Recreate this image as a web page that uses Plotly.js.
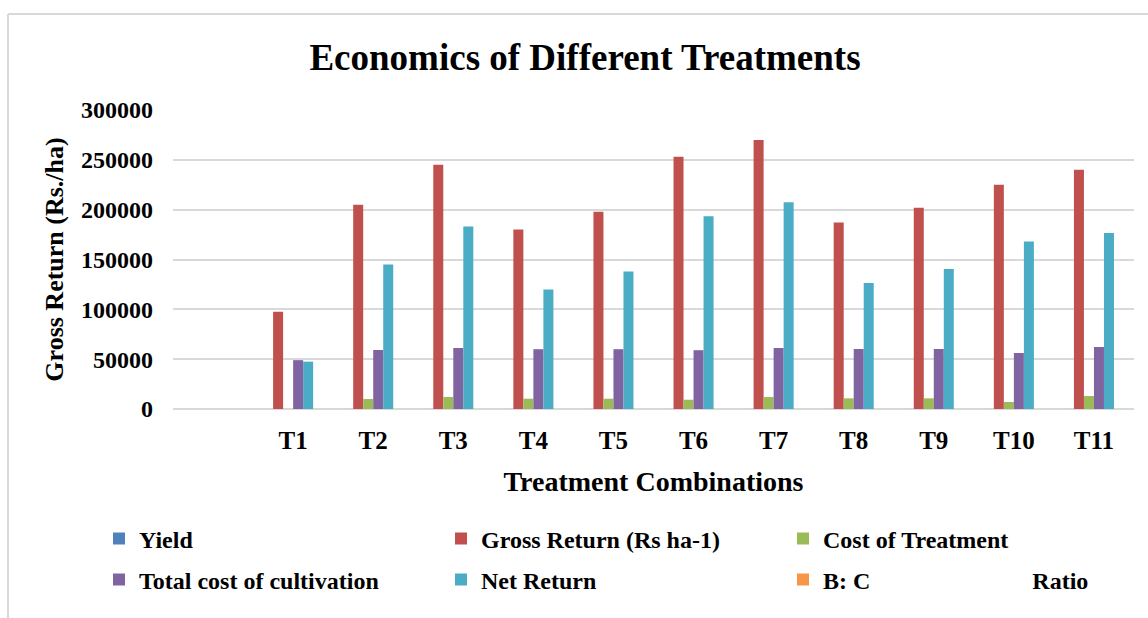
<!DOCTYPE html>
<html>
<head>
<meta charset="utf-8">
<script src="https://cdn.plot.ly/plotly-3.0.1.min.js"></script>
<style>
html,body{margin:0;padding:0;background:#fff;}
#chart{width:1148px;height:618px;}
</style>
</head>
<body>
<div id="chart"></div>
<script>
// Categories (first one is an empty slot, as in the reference)
const categories = [" ", "T1", "T2", "T3", "T4", "T5", "T6", "T7", "T8", "T9", "T10", "T11"];

// Series values
const yieldVals      = [null, 19.5, 41, 49, 36, 39.6, 50.6, 54, 37.4, 40.4, 45, 48];
const grossReturn    = [null, 97500, 205000, 245000, 180000, 198000, 253000, 270000, 187000, 202000, 225000, 240000];
const costTreatment  = [null, 0, 10000, 12000, 10300, 10300, 9300, 12000, 10700, 10700, 7000, 13000];
const totalCost      = [null, 49000, 59200, 61200, 60000, 60000, 59000, 61200, 60200, 60200, 56200, 62200];
const netReturn      = [null, 47500, 145000, 183000, 120000, 138000, 193500, 207500, 126500, 140500, 168000, 176500];
const bcRatio        = [null, 1.99, 3.46, 4.00, 3.00, 3.30, 4.29, 4.41, 3.10, 3.36, 4.00, 3.86];

const seriesNames = ["Yield", "Gross Return (Rs ha-1)", "Cost of Treatment",
                     "Total cost of cultivation", "Net Return",
                     "B: C" + "\u00A0".repeat(27) + "Ratio"];
const seriesColors = ["#4F81BD", "#C0504D", "#9BBB59", "#8064A2", "#4BACC6", "#F79646"];
const seriesData = [yieldVals, grossReturn, costTreatment, totalCost, netReturn, bcRatio];
const seriesLegend = ["legend", "legend", "legend", "legend2", "legend2", "legend2"];

const FONT = "Liberation Serif, Times New Roman, serif";

const traces = seriesData.map((vals, i) => ({
  type: "bar",
  name: seriesNames[i],
  x: categories,
  y: vals,
  marker: {color: seriesColors[i], line: {width: 0}},
  legend: seriesLegend[i],
  hoverinfo: "x+y+name"
}));

const legendCommon = {
  orientation: "h",
  xref: "paper", yref: "paper",
  x: (99 - 173) / 961,
  xanchor: "left", yanchor: "middle",
  font: {family: FONT, size: 24, color: "#000", weight: "bold"},
  entrywidth: 297, entrywidthmode: "pixels",
  bgcolor: "rgba(0,0,0,0)",
  borderwidth: 0,
  traceorder: "normal"
};

const layout = {
  width: 1148, height: 618,
  paper_bgcolor: "#fff", plot_bgcolor: "#fff",
  margin: {l: 173, r: 14, t: 110, b: 209, pad: 0},
  font: {family: FONT, color: "#000"},
  title: {
    text: "<b>Economics of Different Treatments</b>",
    font: {family: FONT, size: 37, color: "#000"},
    x: 585/1148, xanchor: "center", xref: "container",
    y: 1 - 57/618, yanchor: "middle", yref: "container"
  },
  barmode: "group",
  bargap: 0.25,
  bargroupgap: 0,
  xaxis: {
    type: "category",
    categoryorder: "array",
    categoryarray: categories,
    range: [-0.5, 11.5],
    showgrid: false,
    showline: false,
    zeroline: false,
    ticks: "",
    ticklabelstandoff: 14,
    tickfont: {family: FONT, size: 25, color: "#000", weight: "bold"},
    title: {
      text: "<b>Treatment Combinations</b>",
      font: {family: FONT, size: 28, color: "#000"},
      standoff: 18
    },
    automargin: false,
    fixedrange: true
  },
  yaxis: {
    range: [0, 300000],
    dtick: 50000,
    tick0: 0,
    showgrid: true,
    gridcolor: "#d9d9d9",
    gridwidth: 2,
    zeroline: true,
    zerolinecolor: "#d9d9d9",
    zerolinewidth: 2,
    showline: false,
    ticks: "",
    ticklabelstandoff: 19,
    tickformat: "d",
    tickfont: {family: FONT, size: 24, color: "#000", weight: "bold"},
    title: {
      text: "<b>Gross Return (Rs./ha)</b>",
      font: {family: FONT, size: 26, color: "#000"},
      standoff: 9
    },
    automargin: false,
    fixedrange: true
  },
  legend: Object.assign({}, legendCommon, {y: (409 - 539) / 299}),
  legend2: Object.assign({}, legendCommon, {y: (409 - 580) / 299}),
  showlegend: true,
  shapes: [
    {type: "line", xref: "paper", yref: "paper",
     x0: (8-173)/961, x1: (8-173)/961, y0: (409-14)/299, y1: (409-640)/299,
     line: {color: "#d9d9d9", width: 2}},
    {type: "line", xref: "paper", yref: "paper",
     x0: (8-173)/961, x1: (1160-173)/961, y0: (409-14)/299, y1: (409-14)/299,
     line: {color: "#d9d9d9", width: 2}}
  ]
};

Plotly.newPlot("chart", traces, layout, {displayModeBar: false, staticPlot: true});
</script>
</body>
</html>
